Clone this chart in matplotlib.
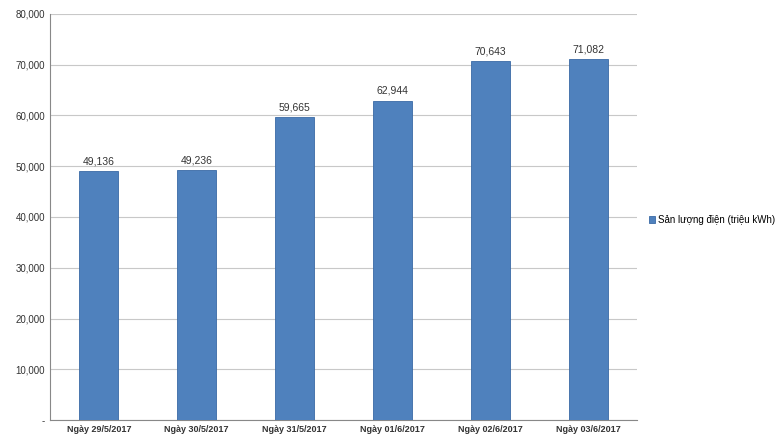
import matplotlib
matplotlib.use("Agg")
import matplotlib.pyplot as plt
from matplotlib.ticker import FuncFormatter

categories = ["Ngày 29/5/2017", "Ngày 30/5/2017", "Ngày 31/5/2017",
              "Ngày 01/6/2017", "Ngày 02/6/2017", "Ngày 03/6/2017"]
values = [49136, 49236, 59665, 62944, 70643, 71082]
series_name = "Sản lượng điện (triệu kWh)"

plt.rcParams['font.family'] = ['Liberation Sans', 'DejaVu Sans']
fig = plt.figure(figsize=(7.8, 4.4), dpi=100)
ax = fig.add_axes([50/780, 20/440, 587/780, 406/440])
x = range(len(categories))
bars = ax.bar(x, values, width=0.4, color="#4F81BD", edgecolor="#3A6AA5",
              linewidth=0.6, label=series_name, zorder=3)
for xi, v in zip(x, values):
    ax.text(xi, v + 900, f"{v:,}", ha="center", va="bottom", fontsize=7.5, color="#333333")
ax.set_ylim(0, 80000)
ax.set_xlim(-0.5, len(categories) - 0.5)
ax.set_yticks(range(0, 80001, 10000))
ax.yaxis.set_major_formatter(FuncFormatter(lambda v, p: "-" if v == 0 else f"{int(v):,}"))
ax.set_xticks(list(x))
ax.set_xticklabels(categories, fontsize=6.5, color="#333333", fontweight="bold")
ax.tick_params(axis="y", labelsize=7, colors="#333333", length=0)
ax.tick_params(axis="x", length=0)
ax.grid(axis="y", color="#C8C8C8", linewidth=0.8, zorder=0)
for s in ["top", "right"]:
    ax.spines[s].set_visible(False)
ax.spines["left"].set_color("#888888")
ax.spines["bottom"].set_color("#888888")
fig.legend(handles=[bars], labels=[series_name], loc="center left",
           bbox_to_anchor=(640/780, 0.5), frameon=False, fontsize=7,
           handlelength=0.6, handleheight=0.6, handletextpad=0.4)
fig.savefig("out.png", dpi=100)
